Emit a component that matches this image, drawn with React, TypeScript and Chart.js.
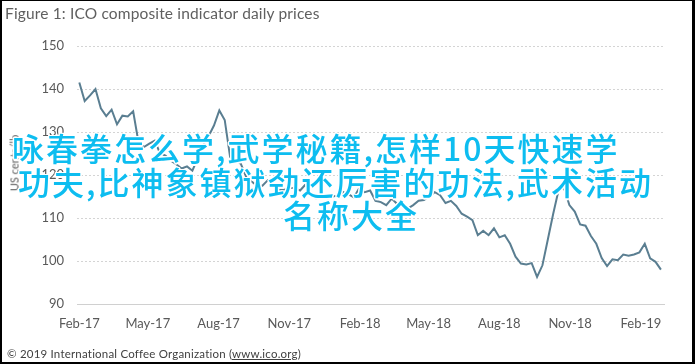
import React, { useEffect, useRef } from 'react';
import { Chart, registerables } from 'chart.js';

Chart.register(...registerables);

const titleText = 'Figure 1: ICO composite indicator daily prices';
const yAxisTitle = 'US cents/lb';
const footerText = '© 2019 International Coffee Organization (';
const footerLink = 'www.ico.org';
const tickLabels = ['Feb-17', 'May-17', 'Aug-17', 'Nov-17', 'Feb-18', 'May-18', 'Aug-18', 'Nov-18', 'Feb-19'];
// days since 1 Feb 2017
const tickDays = [0, 89, 181, 273, 365, 454, 546, 638, 730];
const weekStepDays = 7;
// weekly readings of the ICO composite indicator (US cents/lb), from Feb 2017
const prices = [
  141.5, 137.2, 138.5, 140.0, 135.5, 133.7, 135.2, 131.8, 133.8, 133.6,
  134.8, 127.5, 126.5, 127.3, 128.0, 125.0, 124.5, 123.3, 122.5, 121.5,
  122.0, 121.0, 124.0, 127.0, 129.0, 131.5, 135.0, 132.8, 124.2, 123.5,
  122.6, 119.5, 118.5, 117.5, 117.5, 118.8, 118.0, 116.6, 116.5, 117.0,
  117.0, 116.4, 117.8, 115.5, 114.5, 114.8, 114.5, 115.0, 115.2, 116.0,
  115.5, 114.8, 117.0, 116.0, 116.4, 114.0, 113.7, 113.0, 114.5, 113.3,
  112.8, 112.2, 113.0, 114.0, 114.2, 115.0, 116.0, 115.3, 113.5, 114.0,
  112.8, 111.0, 110.3, 109.5, 106.0, 107.0, 106.0, 107.6, 105.5, 106.0,
  104.0, 101.0, 99.4, 99.2, 99.5, 96.3, 99.0, 105.0, 111.0, 116.5,
  117.0, 113.0, 111.5, 108.5, 108.2, 105.8, 104.0, 100.7, 98.8, 100.4,
  100.2, 101.5, 101.2, 101.5, 102.0, 104.0, 100.6, 99.8, 98.0,
];
const overlayLines = [
  '咏春拳怎么学,武学秘籍,怎样10天快速学',
  '功夫,比神象镇狱劲还厉害的功法,武术活动',
  '名称大全',
];

const axisColor = '#595959';
const fontFamily = 'Lato, "Liberation Sans", sans-serif';

export default function App() {
  const ref = useRef<HTMLCanvasElement>(null);

  useEffect(() => {
    document.body.style.margin = '0';
    const chart = new Chart(ref.current!, {
      type: 'line',
      data: {
        datasets: [
          {
            data: prices.map((v, i) => ({ x: i * weekStepDays, y: v })),
            borderColor: '#5a7e91',
            borderWidth: 2,
            pointRadius: 0,
            tension: 0,
            fill: false,
          },
        ],
      },
      options: {
        animation: false,
        responsive: false,
        layout: { padding: { top: 46, right: 31, bottom: 30, left: 0 } },
        plugins: { legend: { display: false }, tooltip: { enabled: false }, title: { display: false } },
        scales: {
          x: {
            type: 'linear',
            min: -3,
            max: 760,
            afterBuildTicks: (s: any) => {
              s.ticks = tickDays.map((v) => ({ value: v }));
            },
            afterFit: (s: any) => {
              s.height = 30;
            },
            ticks: {
              autoSkip: false,
              maxRotation: 0,
              minRotation: 0,
              padding: 12,
              color: axisColor,
              font: { family: fontFamily, size: 13 },
              callback: (v: any) => {
                const k = tickDays.indexOf(Number(v));
                return k >= 0 ? tickLabels[k] : '';
              },
            },
            grid: { display: false, drawTicks: false },
            border: { display: true, color: '#d0d0d0', width: 1 },
          },
          y: {
            min: 90,
            max: 150,
            afterFit: (s: any) => {
              s.width = 77;
            },
            ticks: {
              stepSize: 10,
              padding: 13,
              color: axisColor,
              font: { family: fontFamily, size: 13 },
            },
            grid: { color: '#d4d4d4', lineWidth: 1, drawTicks: false },
            border: { display: false, dash: [2, 2] },
            title: { display: false },
          },
        },
      },
    });
    return () => chart.destroy();
  }, []);

  const overlayStyle = (left: number, top: number): React.CSSProperties => ({
    position: 'absolute',
    left,
    top,
    whiteSpace: 'nowrap',
    fontFamily: '"Noto Sans CJK SC", sans-serif',
    fontSize: 32,
    fontWeight: 500,
    lineHeight: '33px',
    letterSpacing: '2px',
    color: '#0dbdf0',
    textShadow:
      '1.5px 0 0 #fff, -1.5px 0 0 #fff, 0 1.5px 0 #fff, 0 -1.5px 0 #fff, 1px 1px 0 #fff, -1px -1px 0 #fff, 1px -1px 0 #fff, -1px 1px 0 #fff',
    pointerEvents: 'none',
  });

  return (
    <div style={{ position: 'relative', width: 695, height: 364, background: '#fff', overflow: 'hidden' }}>
      <canvas ref={ref} width={695} height={364} style={{ position: 'absolute', left: 0, top: 0, display: 'block' }} />
      <div
        style={{
          position: 'absolute',
          left: 5,
          top: 4,
          fontFamily,
          fontSize: 15.5,
          letterSpacing: '0.15px',
          color: '#5f5f5f',
          whiteSpace: 'nowrap',
        }}
      >
        {titleText}
      </div>
      <div
        style={{
          position: 'absolute',
          left: 14,
          top: 163,
          transform: 'translate(-50%, -50%) rotate(-90deg)',
          fontFamily,
          fontSize: 11,
          color: axisColor,
          whiteSpace: 'nowrap',
        }}
      >
        {yAxisTitle}
      </div>
      <div
        style={{
          position: 'absolute',
          left: 7,
          top: 347,
          fontFamily,
          fontSize: 11.5,
          letterSpacing: '0.2px',
          color: '#404040',
          whiteSpace: 'nowrap',
        }}
      >
        {footerText}
        <span style={{ textDecoration: 'underline' }}>{footerLink}</span>)
      </div>
      <div style={overlayStyle(12, 131)}>{overlayLines[0]}</div>
      <div style={overlayStyle(18, 165)}>{overlayLines[1]}</div>
      <div style={overlayStyle(283, 198)}>{overlayLines[2]}</div>
      <div
        style={{
          position: 'absolute',
          left: 0,
          top: 0,
          width: 695,
          height: 364,
          boxSizing: 'border-box',
          borderTop: '1px solid #000',
          borderLeft: '2px solid #000',
          borderRight: '3px solid #000',
          borderBottom: '2px solid #000',
          pointerEvents: 'none',
        }}
      />
    </div>
  );
}
